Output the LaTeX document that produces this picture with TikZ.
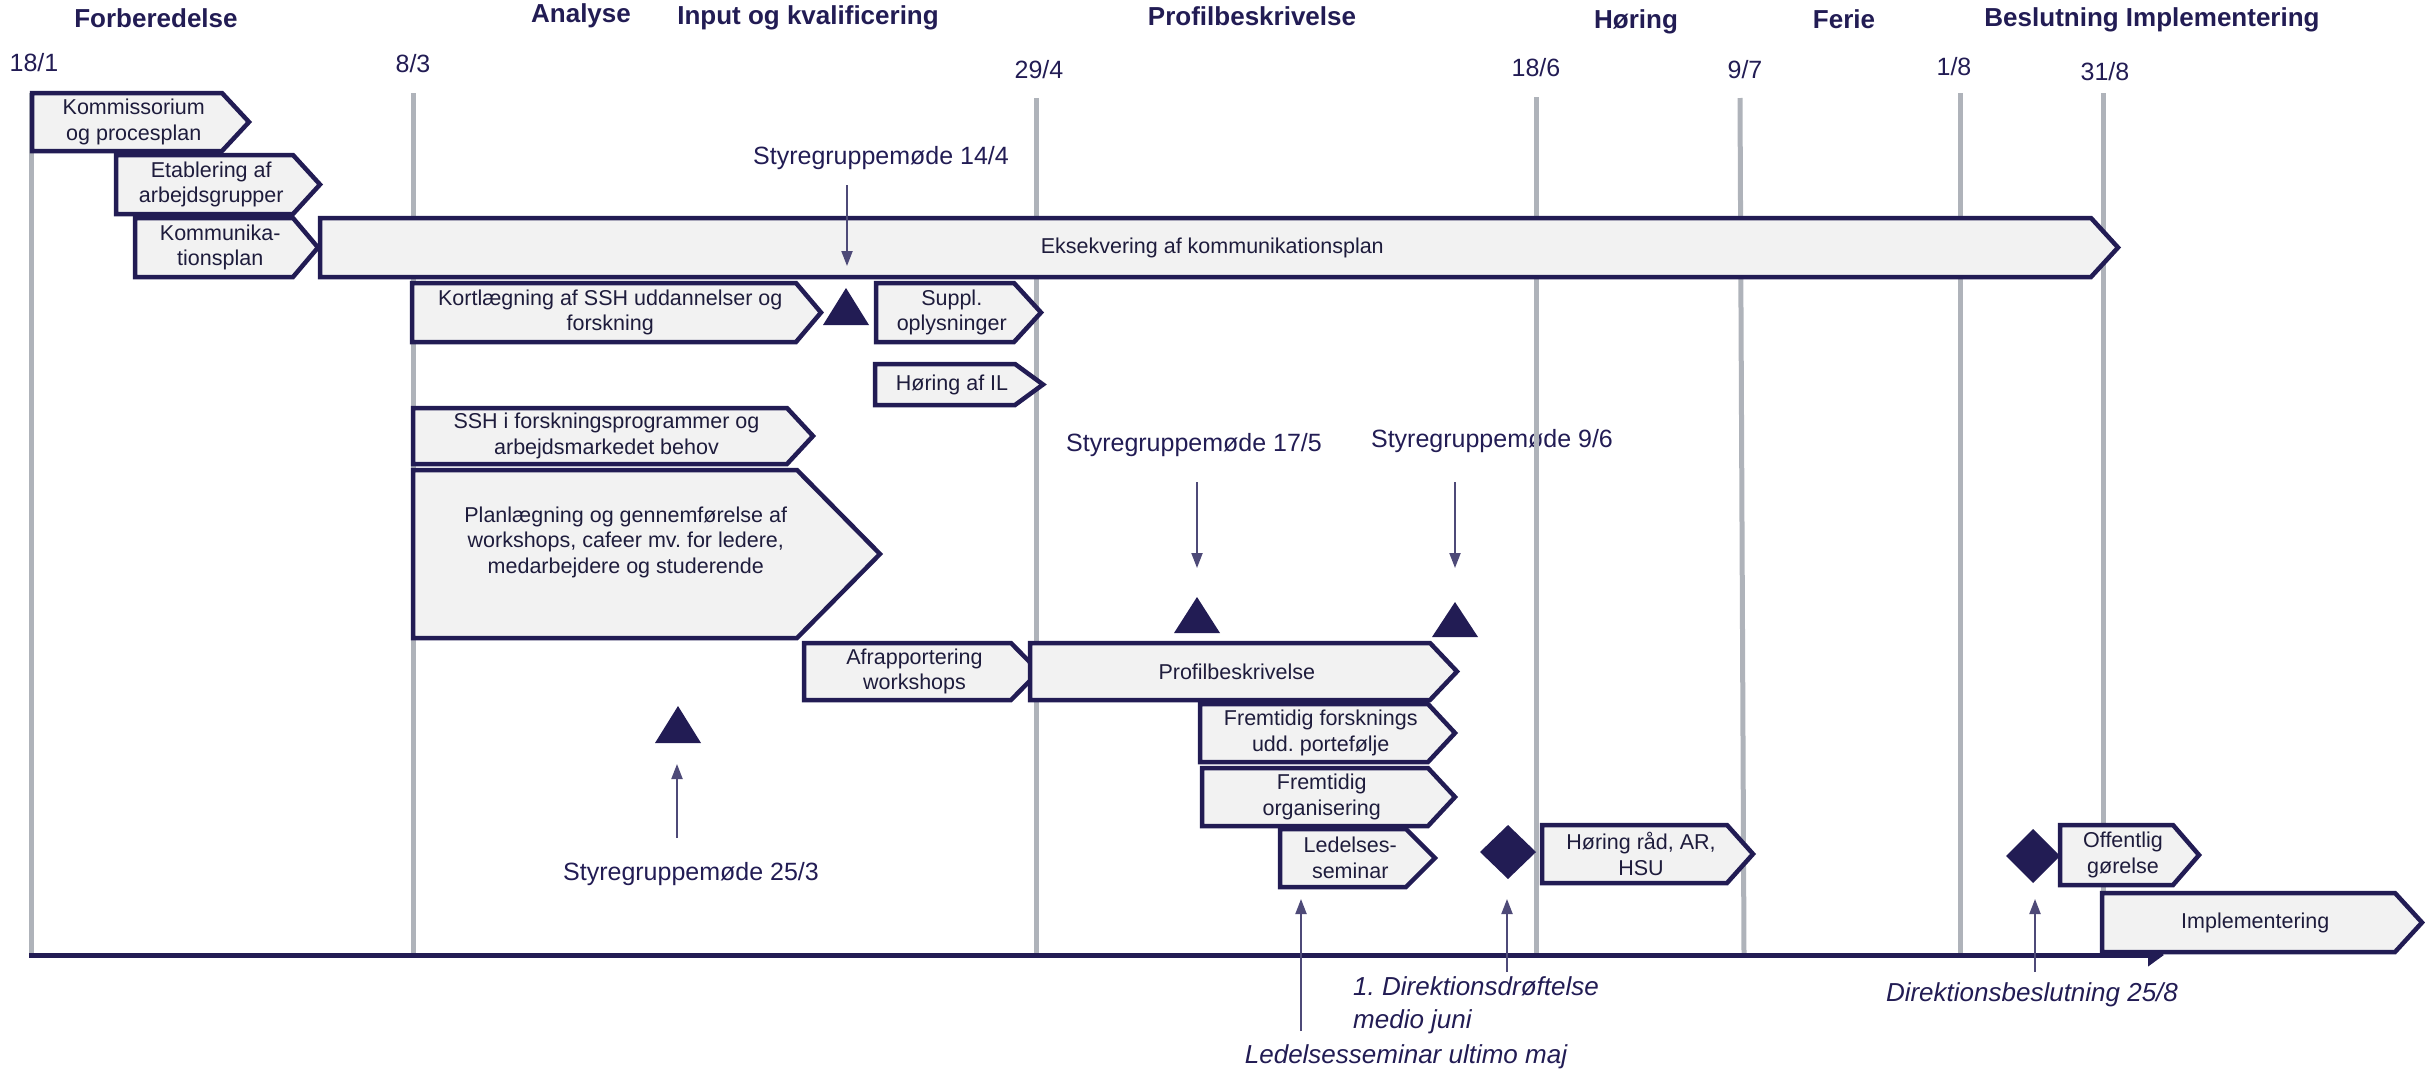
\documentclass[tikz,border=0pt]{standalone}
\usepackage{fontspec}
\setmainfont{Liberation Sans}
\usetikzlibrary{arrows.meta}
\frenchspacing
\definecolor{navy}{RGB}{34,28,84}
\definecolor{gline}{RGB}{175,179,186}
\definecolor{boxfill}{RGB}{242,242,242}
\definecolor{arrc}{RGB}{78,74,120}
\definecolor{txt}{RGB}{30,28,60}
\newcommand{\chevn}[8][]{%
  \draw[chevbox] (#3,#4) -- (#5,#4) -- (#6,{(#4+#7)/2}) -- (#5,#7) -- (#3,#7) -- cycle;
  \node[boxtext,#1] (#2) at ({(#3+#5)/2+(#6-#5)/4},{(#4+#7)/2}) {#8};
}
\begin{document}
\begin{tikzpicture}[x=1pt,y=-1pt,
  chevbox/.style={draw=navy,fill=boxfill,line width=4.5pt,line join=miter},
  boxtext/.style={align=center,inner sep=0pt,text=txt,font=\fontsize{21.5}{25.5}\selectfont},
  phase/.style={inner sep=0pt,text=navy,font=\bfseries\fontsize{26}{30}\selectfont},
  datel/.style={inner sep=0pt,text=navy,font=\fontsize{25}{30}\selectfont},
  meet/.style={inner sep=0pt,text=navy,font=\fontsize{25}{30}\selectfont},
  note/.style={inner sep=0pt,text=navy,font=\itshape\fontsize{26}{33}\selectfont},
  gridl/.style={draw=gline,line width=5pt},
  timeaxis/.style={draw=navy,line width=5pt,-{Triangle[length=16pt,width=22pt]}},
  ptr/.style={draw=arrc,line width=2pt,-{Triangle[length=15pt,width=11pt]}},
  milestone/.style={fill=navy},
]
\useasboundingbox (0,0) rectangle (2425,1074);

% phase headers
\node[phase] (hForb) at (156,18) {Forberedelse};
\node[phase] (hAna) at (581,16) {Analyse};
\node[phase] (hInp) at (808,18) {Input og kvalificering};
\node[phase] (hProf) at (1252,16) {Profilbeskrivelse};
\node[phase] (hHor) at (1636,22) {Høring};
\node[phase] (hFer) at (1844,19) {Ferie};
\node[phase] (hBes) at (2152,20) {Beslutning Implementering};

% dates
\node[datel] (d1) at (34,63) {18/1};
\node[datel] (d2) at (413,64) {8/3};
\node[datel] (d3) at (1039,70) {29/4};
\node[datel] (d4) at (1536,68) {18/6};
\node[datel] (d5) at (1745,70) {9/7};
\node[datel] (d6) at (1954,67) {1/8};
\node[datel] (d7) at (2105,72) {31/8};

% this label lies beneath the 18/6 grid line in the original
\node[meet] (m96) at (1492,441) {Styregruppemøde 9/6};

% grid lines
\coordinate (g1t) at (31,93);   \coordinate (g1b) at (31,955);
\coordinate (g2t) at (413,93);  \coordinate (g2b) at (413,955);
\coordinate (g3t) at (1036,98); \coordinate (g3b) at (1036,955);
\coordinate (g4t) at (1536,97); \coordinate (g4b) at (1536,955);
\coordinate (g5t) at (1740,98); \coordinate (g5b) at (1744,955);
\coordinate (g6t) at (1960,93); \coordinate (g6b) at (1960,955);
\coordinate (g7t) at (2103,93); \coordinate (g7b) at (2103,955);
\foreach \i in {1,...,7} {\draw[gridl] (g\i t) -- (g\i b);}

% time axis
\coordinate (ax0) at (29,955);
\coordinate (ax1) at (2164,955);
\draw[timeaxis] (ax0) -- (ax1);

% activity boxes
\chevn{kom}{32}{93}{222}{249}{151}{Kommissorium\\og procesplan}
\chevn{etab}{116}{155}{293}{320}{214}{Etablering af\\arbejdsgrupper}
\chevn{kplan}{135}{218}{293}{318}{277}{Kommunika-\\tionsplan}
\chevn{eks}{320}{218}{2091}{2118}{277}{Eksekvering af kommunikationsplan}
\chevn{kort}{412}{283}{796}{821}{342}{Kortlægning af SSH uddannelser og\\forskning}
\chevn{suppl}{876}{283}{1014}{1041}{342}{Suppl.\\oplysninger}
\chevn{hil}{875}{364}{1015}{1043}{405}{Høring af IL}
\chevn{ssh}{413}{408}{787}{813}{464}{SSH i forskningsprogrammer og\\arbejdsmarkedet behov}
\chevn[yshift=12pt]{plan}{413}{470}{797}{880}{638}{Planlægning og gennemførelse af\\workshops, cafeer mv. for ledere,\\medarbejdere og studerende}
\chevn{afr}{804}{643}{1011}{1039}{700}{Afrapportering\\workshops}
\chevn{prof}{1030}{643}{1430}{1457}{700}{Profilbeskrivelse}
\chevn{ffor}{1200}{704}{1428}{1455}{762}{Fremtidig forsknings\\udd. portefølje}
\chevn{forg}{1202}{768}{1428}{1455}{826}{Fremtidig\\organisering}
\chevn{led}{1280}{829}{1406}{1435}{887}{Ledelses-\\seminar}
\chevn{hraad}{1542}{825}{1727}{1753}{883}{Høring råd, AR,\\HSU}
\chevn{off}{2060}{825}{2173}{2199}{885}{Offentlig\\gørelse}
\chevn{impl}{2102}{893}{2395}{2422}{952}{Implementering}

% milestones (triangles)
\fill[milestone] (823,325) -- (846,288) -- (869,325) -- cycle;
\fill[milestone] (1174,633) -- (1197,597) -- (1220,633) -- cycle;
\fill[milestone] (1432,637) -- (1455,602) -- (1478,637) -- cycle;
\fill[milestone] (655,743) -- (678,706) -- (701,743) -- cycle;
% decisions (diamonds)
\fill[milestone] (1480,852) -- (1508,825) -- (1536,852) -- (1508,879) -- cycle;
\fill[milestone] (2006,856) -- (2033,829) -- (2060,856) -- (2033,883) -- cycle;

% steering group meetings
\node[meet] (m144) at (881,158) {Styregruppemøde 14/4};
\node[meet] (m175) at (1194,445) {Styregruppemøde 17/5};
\node[meet] (m253) at (691,874) {Styregruppemøde 25/3};

\coordinate (a1s) at (847,185);  \coordinate (a1e) at (847,266);
\coordinate (a2s) at (1197,482); \coordinate (a2e) at (1197,568);
\coordinate (a3s) at (1455,482); \coordinate (a3e) at (1455,568);
\coordinate (a4s) at (677,838);  \coordinate (a4e) at (677,764);
\coordinate (a5s) at (1301,1031); \coordinate (a5e) at (1301,899);
\coordinate (a6s) at (1507,972); \coordinate (a6e) at (1507,899);
\coordinate (a7s) at (2035,972); \coordinate (a7e) at (2035,899);
\foreach \i in {1,...,7} {\draw[ptr] (a\i s) -- (a\i e);}

% notes
\node[note,align=left,anchor=west] (n1) at (1353,1005) {1. Direktionsdrøftelse\\medio juni};
\node[note] (n2) at (1406,1057) {Ledelsesseminar ultimo maj};
\node[note] (n3) at (2032,995) {Direktionsbeslutning 25/8};
\end{tikzpicture}
\end{document}
